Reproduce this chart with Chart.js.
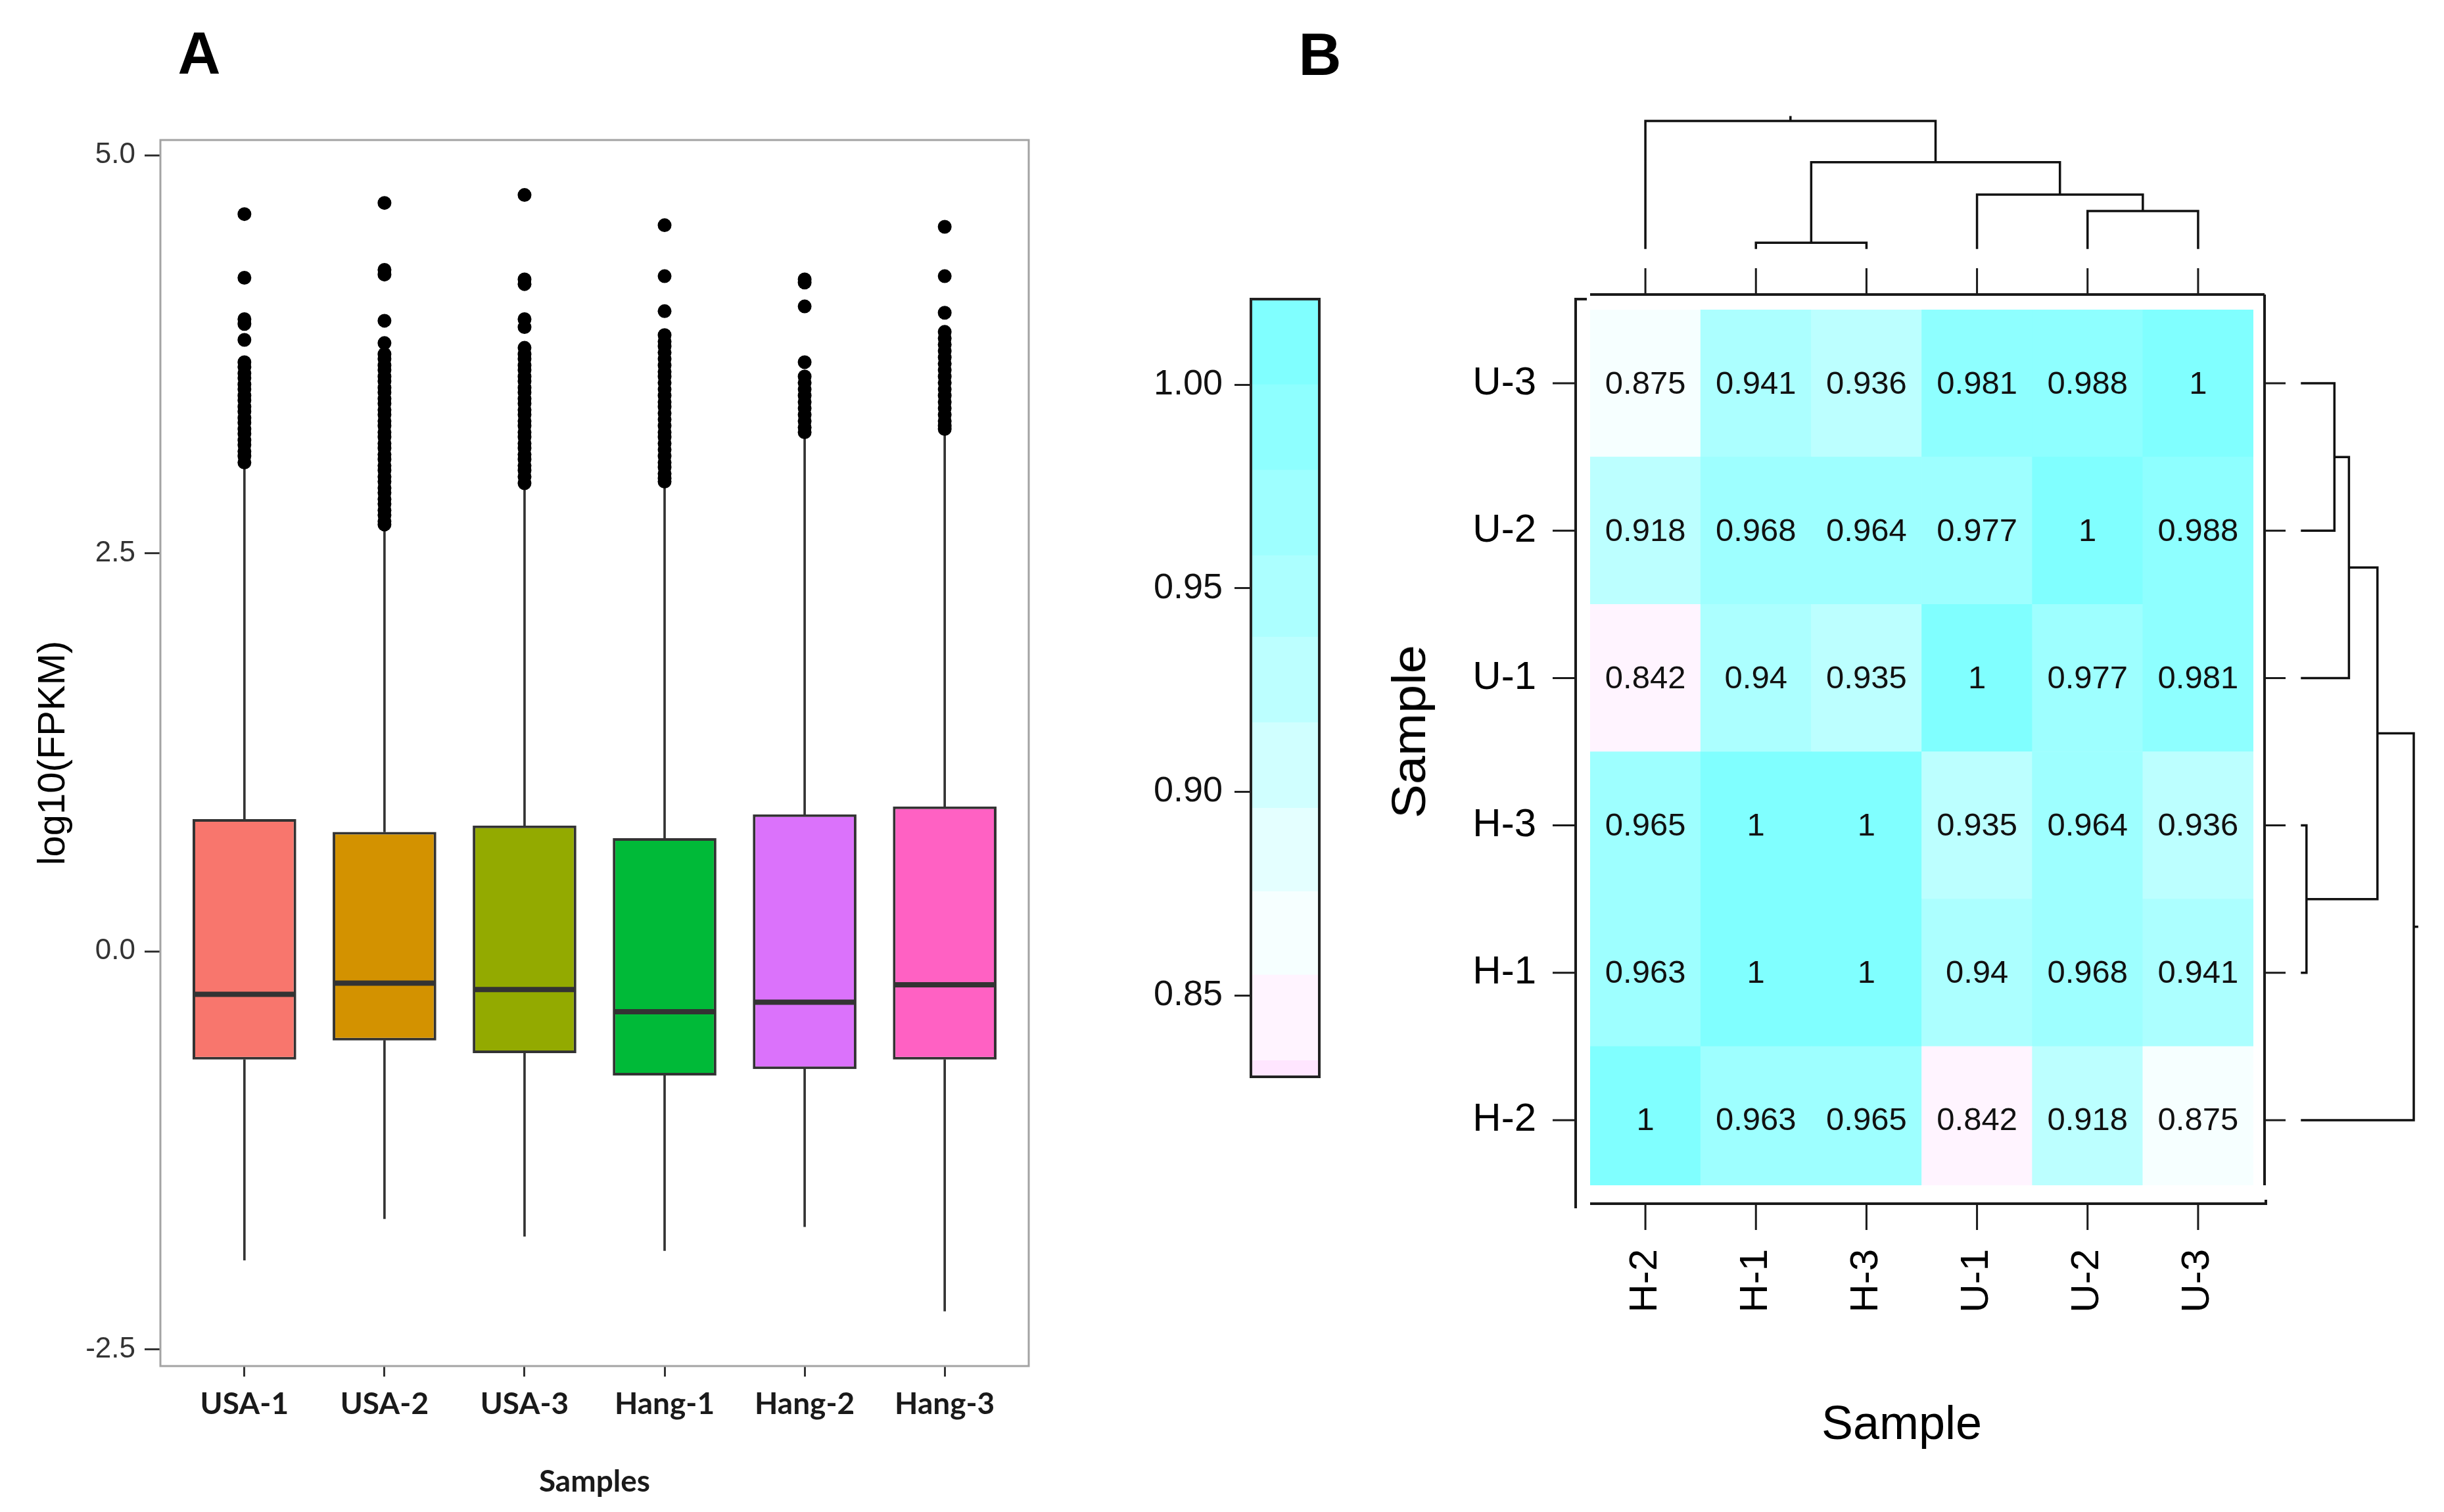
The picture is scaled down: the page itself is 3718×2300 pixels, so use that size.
<!DOCTYPE html>
<html>
<head>
<meta charset="utf-8">
<title>FPKM distribution and sample correlation</title>
<script src="https://cdn.jsdelivr.net/npm/chart.js@4.4.1/dist/chart.umd.min.js"></script>
<style>
  html, body { margin: 0; padding: 0; background: #fff; }
  #page { position: relative; width: 3718px; height: 2300px; overflow: hidden; background: #fff; }
  canvas { position: absolute; top: 0; }
  .lbl { position: absolute; font-family: "Liberation Sans", Arial, sans-serif; color: #000; white-space: nowrap; line-height: 1; }
  #labA, #labB { font-weight: bold; font-size: 90px; transform: translate(-50%, -50%); }
  #labA { left: 303px; top: 81px; }
  #labB { left: 2008px; top: 83px; }
  #heatYTitle { font-size: 72px; left: 2143px; top: 1113px; transform: translate(-50%, -50%) rotate(-90deg) scaleX(1.08); }
  #heatXTitle { font-size: 72px; left: 2893px; top: 2128px; transform: translateX(-50%); }
</style>
</head>
<body>
<div id="page">
  <div class="lbl" id="labA">A</div>
  <div class="lbl" id="labB">B</div>
  <canvas id="boxChart" width="1650" height="2300" style="left:0px"></canvas>
  <canvas id="keyChart" width="420" height="2300" style="left:1650px"></canvas>
  <canvas id="heatChart" width="1668" height="2300" style="left:2050px"></canvas>
  <div class="lbl" id="heatYTitle">Sample</div>
  <div class="lbl" id="heatXTitle">Sample</div>
</div>
<script>
// ---------- panel A: log10(FPKM) boxplots ----------
const samples = ['USA-1', 'USA-2', 'USA-3', 'Hang-1', 'Hang-2', 'Hang-3'];
const boxQ1 = [-0.68, -0.56, -0.64, -0.78, -0.74, -0.68];
const boxMedian = [-0.27, -0.20, -0.24, -0.38, -0.32, -0.21];
const boxQ3 = [0.83, 0.75, 0.79, 0.71, 0.86, 0.91];
const whiskerLow = [-1.94, -1.68, -1.79, -1.88, -1.73, -2.26];
const whiskerHigh = [3.04, 2.66, 2.92, 2.93, 3.22, 3.27];
const outliers = [
  [4.63, 4.23, 3.97, 3.94, 3.84, 3.70, 3.67, 3.63, 3.60, 3.56, 3.53, 3.49, 3.46, 3.42, 3.39, 3.35, 3.32, 3.28, 3.25, 3.21, 3.18, 3.14, 3.11, 3.07],
  [4.70, 4.28, 4.25, 3.96, 3.82, 3.75, 3.72, 3.68, 3.65, 3.61, 3.58, 3.54, 3.51, 3.47, 3.44, 3.40, 3.37, 3.33, 3.30, 3.26, 3.23, 3.19, 3.16, 3.12, 3.09, 3.05, 3.02, 2.98, 2.95, 2.91, 2.88, 2.84, 2.81, 2.77, 2.74, 2.70, 2.68],
  [4.75, 4.22, 4.19, 3.97, 3.92, 3.79, 3.75, 3.72, 3.68, 3.65, 3.61, 3.58, 3.54, 3.51, 3.47, 3.44, 3.40, 3.37, 3.33, 3.30, 3.26, 3.23, 3.19, 3.16, 3.12, 3.09, 3.05, 3.02, 2.98, 2.94],
  [4.56, 4.24, 4.02, 3.87, 3.83, 3.80, 3.76, 3.72, 3.68, 3.64, 3.61, 3.57, 3.53, 3.49, 3.45, 3.42, 3.38, 3.34, 3.30, 3.26, 3.23, 3.19, 3.15, 3.11, 3.07, 3.04, 3.00, 2.97, 2.95],
  [4.22, 4.20, 4.05, 3.70, 3.61, 3.57, 3.53, 3.49, 3.45, 3.41, 3.37, 3.33, 3.29, 3.26],
  [4.55, 4.24, 4.01, 3.89, 3.85, 3.81, 3.77, 3.73, 3.69, 3.65, 3.61, 3.57, 3.53, 3.49, 3.45, 3.41, 3.37, 3.33, 3.30, 3.28]
];
const yTicksA = [-2.5, 0, 2.5, 5.0];

// ---------- panel B: correlation heatmap ----------
// columns left->right, rows bottom->top
const heatSamples = ['H-2', 'H-1', 'H-3', 'U-1', 'U-2', 'U-3'];
const corrH2 = [1, 0.963, 0.965, 0.842, 0.918, 0.875];
const corrH1 = [0.963, 1, 1, 0.94, 0.968, 0.941];
const corrH3 = [0.965, 1, 1, 0.935, 0.964, 0.936];
const corrU1 = [0.842, 0.94, 0.935, 1, 0.977, 0.981];
const corrU2 = [0.918, 0.968, 0.964, 0.977, 1, 0.988];
const corrU3 = [0.875, 0.941, 0.936, 0.981, 0.988, 1];
const corr = [corrH2, corrH1, corrH3, corrU1, corrU2, corrU3];
const keyBreaks = [0.830, 0.834, 0.855, 0.8755, 0.896, 0.917, 0.938, 0.958, 0.979, 1.000, 1.021];
const keyTicks = [0.85, 0.90, 0.95, 1.00];
// dendrogram (hclust style): negative = leaf -(position+1), positive = earlier merge number
const mergeA = [-2, -5, -4, 1, -1];
const mergeB = [-3, -6, 2, 3, 4];
const mergeHeight = [0.04, 0.29, 0.42, 0.675, 1.0];

// ---------- styles ----------
const boxFill = ['#F8766D', '#D39200', '#93AA00', '#00BA38', '#DB72FB', '#FF61C3'];
const keyColors = ['#FFE6FF', '#FFF4FF', '#F6FFFF', '#E4FFFF', '#D0FFFF', '#BCFFFF', '#ACFFFF', '#9EFFFF', '#8EFFFF', '#80FFFF'];
const sans = '"Liberation Sans", Arial, sans-serif';
Chart.defaults.font.family = sans;
Chart.defaults.color = '#000';

function colorFor(v) {
  for (let k = 0; k < keyColors.length; k++) {
    if (v < keyBreaks[k + 1]) return keyColors[k];
  }
  return keyColors[keyColors.length - 1];
}

const common = {
  responsive: false,
  animation: false,
  devicePixelRatio: 1,
  events: [],
  plugins: { legend: { display: false }, tooltip: { enabled: false } }
};

// grey panel border for the ggplot panel
const panelFrame = {
  id: 'panelFrame',
  afterDraw(chart) {
    const { ctx, chartArea: a } = chart;
    ctx.save();
    ctx.strokeStyle = '#A3A3A3';
    ctx.lineWidth = 3;
    ctx.strokeRect(a.left, a.top, a.right - a.left, a.bottom - a.top);
    ctx.restore();
  }
};

new Chart(document.getElementById('boxChart'), {
  type: 'bar',
  data: {
    datasets: [
      {
        label: 'IQR',
        data: samples.map((s, i) => ({ x: i + 1, y: [boxQ1[i], boxQ3[i]] })),
        backgroundColor: boxFill,
        borderColor: '#333333',
        borderWidth: 4,
        borderSkipped: false,
        barPercentage: 0.74,
        categoryPercentage: 1,
        grouped: false,
        order: 1
      },
      {
        label: 'upper whisker',
        data: samples.map((s, i) => ({ x: i + 1, y: [boxQ3[i], whiskerHigh[i]] })),
        backgroundColor: '#333333',
        barThickness: 3,
        grouped: false,
        order: 2
      },
      {
        label: 'lower whisker',
        data: samples.map((s, i) => ({ x: i + 1, y: [whiskerLow[i], boxQ1[i]] })),
        backgroundColor: '#333333',
        barThickness: 3,
        grouped: false,
        order: 2
      },
      {
        type: 'scatter',
        label: 'median',
        data: samples.map((s, i) => ({ x: i + 1, y: boxMedian[i] })),
        pointStyle: 'line',
        pointRadius: 76,
        pointBorderWidth: 8,
        pointBorderColor: '#333333',
        order: 0
      },
      {
        type: 'scatter',
        label: 'outliers',
        data: outliers.flatMap((vals, i) => vals.map(v => ({ x: i + 1, y: v }))),
        pointRadius: 10.5,
        pointBackgroundColor: '#000',
        pointBorderWidth: 0,
        order: -1
      }
    ]
  },
  options: {
    ...common,
    layout: { padding: { left: 0, top: 213, right: 85, bottom: 0 } },
    scales: {
      x: {
        type: 'linear', min: 0.4, max: 6.6, offset: false,
        afterBuildTicks: s => { s.ticks = samples.map((n, i) => ({ value: i + 1 })); },
        ticks: {
          callback: v => samples[v - 1],
          autoSkip: false, maxRotation: 0,
          font: { family: 'Lato', size: 46, weight: 'bold' }, color: '#1a1a1a', padding: 15
        },
        grid: { offset: false, drawOnChartArea: false, drawTicks: true, tickLength: 16, color: '#333', lineWidth: 3 },
        border: { display: false },
        title: {
          display: true, text: 'Samples',
          font: { family: 'Lato', size: 46, weight: 'bold' }, color: '#1a1a1a',
          padding: { top: 0, bottom: 18 }
        },
        afterFit: s => { s.height = 222; }
      },
      y: {
        type: 'linear', min: -2.605, max: 5.095,
        afterBuildTicks: s => { s.ticks = yTicksA.map(v => ({ value: v })); },
        ticks: { callback: v => v.toFixed(1), font: { size: 44 }, color: '#333', padding: 14 },
        grid: { drawOnChartArea: false, drawTicks: true, tickLength: 24, color: '#333', lineWidth: 3 },
        border: { display: false },
        title: { display: true, text: 'log10(FPKM)', font: { size: 58 }, color: '#000', padding: { top: 47, bottom: 0 } },
        afterFit: s => { s.width = 244; }
      }
    }
  },
  plugins: [panelFrame]
});

// ---------- colour key ----------
const keyFrame = {
  id: 'keyFrame',
  afterDraw(chart) {
    const { ctx, chartArea: a } = chart;
    ctx.save();
    ctx.strokeStyle = '#222';
    ctx.lineWidth = 4;
    ctx.strokeRect(a.left, a.top, a.right - a.left, a.bottom - a.top);
    ctx.restore();
  }
};

new Chart(document.getElementById('keyChart'), {
  type: 'bar',
  data: {
    labels: ['key'],
    datasets: keyColors.map((c, k) => ({
      label: 'band ' + k,
      data: [[keyBreaks[k], keyBreaks[k + 1]]],
      backgroundColor: c,
      borderWidth: 0,
      barPercentage: 1,
      categoryPercentage: 1,
      grouped: false
    }))
  },
  options: {
    ...common,
    layout: { padding: { left: 0, top: 455, right: 63, bottom: 662 } },
    scales: {
      x: { display: false },
      y: {
        min: keyBreaks[0], max: keyBreaks[keyBreaks.length - 1],
        afterBuildTicks: s => { s.ticks = keyTicks.map(v => ({ value: v })); },
        ticks: { callback: v => v.toFixed(2), font: { size: 54 }, color: '#111', padding: 18 },
        grid: { drawOnChartArea: false, drawTicks: true, tickLength: 25, color: '#222', lineWidth: 3 },
        border: { display: false },
        afterFit: s => { s.width = 253; }
      }
    }
  },
  plugins: [keyFrame]
});

// ---------- heatmap with dendrograms ----------
const heatLeft = 2050;             // canvas offset on the page
const area = { left: 2419, right: 3428, top: 471, bottom: 1803 };
const topDendro = { base: 377, peak: 184 };     // y pixel of height 0 and 1
const sideDendro = { base: 3502, peak: 3672 };  // x pixel of height 0 and 1

// hidden axis carrying the column-tree heights above the heatmap
const ydRange = (area.bottom - area.top) / (topDendro.base - topDendro.peak);
const ydMin = -(area.bottom - topDendro.base) / (topDendro.base - topDendro.peak);
// row-tree heights are placed on the heatmap x axis, beyond its last column
const colUnit = (area.right - area.left) / heatSamples.length;
const sideBaseX = -0.5 + (sideDendro.base - area.left) / colUnit;
const sidePeakX = -0.5 + (sideDendro.peak - area.left) / colUnit;

function dendroPoints(swap) {
  const pos = [], hgt = [], pts = [];
  const pt = (p, h) => swap ? { x: sideBaseX + h * (sidePeakX - sideBaseX), y: p } : { x: p, y: h };
  const node = k => k < 0 ? { p: -k - 1, h: 0 } : { p: pos[k - 1], h: hgt[k - 1] };
  mergeA.forEach((a, i) => {
    const l = node(a), r = node(mergeB[i]), h = mergeHeight[i];
    pts.push(pt(l.p, l.h), pt(l.p, h), pt(r.p, h), pt(r.p, r.h), { x: null, y: null });
    pos.push((l.p + r.p) / 2);
    hgt.push(h);
  });
  const root = pos[pos.length - 1];
  pts.push(pt(root, 1), pt(root, 1.03));
  return pts;
}

const heatDecor = {
  id: 'heatDecor',
  afterDatasetsDraw(chart) {
    const { ctx, chartArea: a, scales: { x, y } } = chart;
    ctx.save();
    ctx.font = '49px ' + sans;
    ctx.fillStyle = '#111';
    ctx.textAlign = 'center';
    ctx.textBaseline = 'middle';
    corr.forEach((row, i) => row.forEach((v, j) => {
      ctx.fillText(String(v), x.getPixelForValue(j), y.getPixelForValue(i) + 2);
    }));

    const fl = a.left - 22, ft = a.top - 23, fr = a.right + 17, fb = a.bottom + 28;
    ctx.strokeStyle = '#1a1a1a';
    ctx.lineCap = 'butt';
    ctx.lineWidth = 4;
    ctx.beginPath();
    ctx.moveTo(a.left, ft); ctx.lineTo(fr, ft);
    ctx.moveTo(fl + 17, ft + 7); ctx.lineTo(fl, ft + 7); ctx.lineTo(fl, fb + 7);
    ctx.moveTo(a.left, fb); ctx.lineTo(fr + 2, fb); ctx.lineTo(fr + 2, fb - 6);
    ctx.moveTo(fr, ft); ctx.lineTo(fr, a.bottom);
    ctx.stroke();

    ctx.lineWidth = 3;
    ctx.beginPath();
    heatSamples.forEach((s, j) => {
      const px = x.getPixelForValue(j);
      ctx.moveTo(px, ft - 40); ctx.lineTo(px, ft);
      ctx.moveTo(px, fb); ctx.lineTo(px, fb + 40);
      const py = y.getPixelForValue(j);
      ctx.moveTo(fl - 35, py); ctx.lineTo(fl, py);
      ctx.moveTo(fr, py); ctx.lineTo(fr + 32, py);
    });
    ctx.stroke();
    ctx.restore();
  }
};

const cellSets = corr.map((row, i) => ({
  type: 'bar',
  label: heatSamples[i],
  data: row.map((v, j) => ({ x: j, y: [i - 0.5, i + 0.5] })),
  backgroundColor: row.map(colorFor),
  borderWidth: 0,
  barPercentage: 1,
  categoryPercentage: 1,
  grouped: false,
  xAxisID: 'x',
  yAxisID: 'y'
}));

const dendroStyle = {
  type: 'line',
  borderColor: '#111',
  borderWidth: 3.5,
  pointRadius: 0,
  tension: 0,
  spanGaps: false,
  clip: false,
  borderCapStyle: 'square',
  borderJoinStyle: 'miter'
};

new Chart(document.getElementById('heatChart'), {
  type: 'bar',
  data: {
    datasets: [
      ...cellSets,
      { ...dendroStyle, label: 'column tree', data: dendroPoints(false), xAxisID: 'x', yAxisID: 'yd' },
      { ...dendroStyle, label: 'row tree', data: dendroPoints(true), xAxisID: 'x', yAxisID: 'y' }
    ]
  },
  options: {
    ...common,
    layout: { padding: { left: 0, top: area.top, right: 3718 - area.right, bottom: 0 } },
    scales: {
      x: {
        type: 'linear', min: -0.5, max: 5.5, offset: false, position: 'bottom',
        afterBuildTicks: s => { s.ticks = heatSamples.map((n, j) => ({ value: j })); },
        ticks: {
          callback: v => heatSamples[v],
          autoSkip: false, minRotation: 90, maxRotation: 90,
          font: { size: 60 }, color: '#000', padding: 97
        },
        grid: { display: false, drawTicks: false, offset: false },
        border: { display: false },
        afterFit: s => { s.height = 2300 - area.bottom; }
      },
      y: {
        type: 'linear', min: -0.442, max: 5.5, position: 'left',
        afterBuildTicks: s => { s.ticks = heatSamples.map((n, i) => ({ value: i })); },
        ticks: { callback: v => heatSamples[v], font: { size: 60 }, color: '#000', padding: 82 },
        grid: { display: false, drawTicks: false },
        border: { display: false },
        afterFit: s => { s.width = area.left - heatLeft; }
      },
      yd: { type: 'linear', display: false, position: 'left', min: ydMin, max: ydMin + ydRange }
    }
  },
  plugins: [heatDecor]
});
</script>
</body>
</html>
